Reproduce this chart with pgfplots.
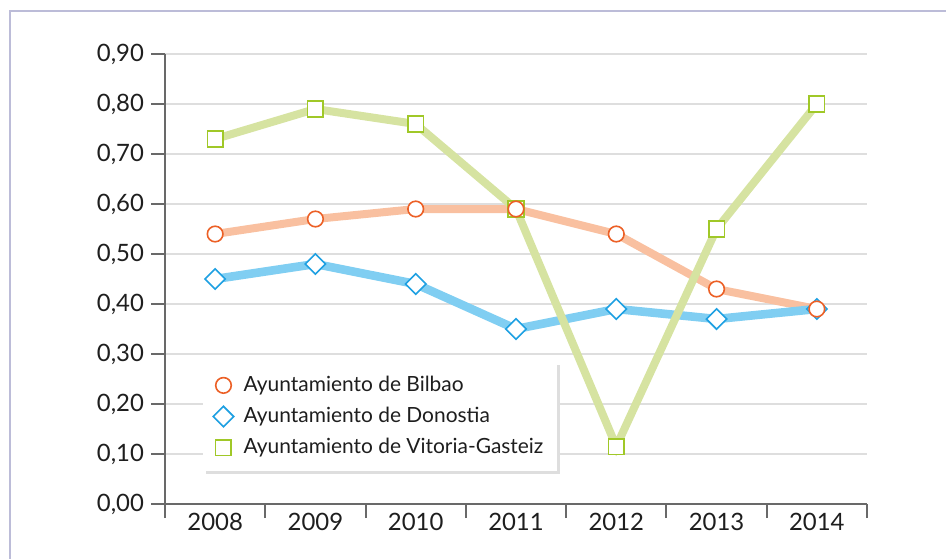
\documentclass[border=0pt]{standalone}
\usepackage{pgfplots}
\pgfplotsset{compat=1.18}
\usepackage{fontspec}
\setmainfont{Lato}
\usetikzlibrary{shadows}
\definecolor{orline}{RGB}{249,192,160}
\definecolor{ormark}{RGB}{236,96,38}
\definecolor{blline}{RGB}{128,206,242}
\definecolor{blmark}{RGB}{30,160,226}
\definecolor{grline}{RGB}{214,227,161}
\definecolor{grmark}{RGB}{160,200,40}
\definecolor{framec}{RGB}{188,188,216}
\definecolor{gridc}{RGB}{222,222,222}
\definecolor{axc}{RGB}{105,105,105}
\definecolor{txt}{RGB}{30,30,30}
\definecolor{shad}{RGB}{222,222,222}
\begin{document}
\begin{tikzpicture}
\useasboundingbox (0bp,0bp) rectangle (473bp,279.5bp);
\draw[framec, line width=1bp] (5bp,-1bp) -- (5bp,274bp) -- (474bp,274bp);
\begin{axis}[at={(82.5bp,27.5bp)}, anchor=south west, scale only axis,
  width=351bp, height=225bp,
  xmin=-0.5, xmax=6.5, ymin=0, ymax=0.9,
  axis x line=bottom, axis y line=left,
  axis line style={axc, line width=1bp, -},
  xtick={-0.5,0.5,1.5,2.5,3.5,4.5,5.5,6.5}, xticklabels={},
  extra x ticks={0,1,2,3,4,5,6},
  extra x tick labels={2008,2009,2010,2011,2012,2013,2014},
  extra x tick style={major tick length=0pt},
  ytick={0,0.1,0.2,0.3,0.4,0.5,0.6,0.7,0.8,0.9},
  major tick length=7bp, tick align=outside,
  tick style={axc, line width=1bp},
  ymajorgrids, grid style={gridc, line width=1bp},
  tick label style={font=\fontsize{12}{14}\selectfont, text=txt},
  /pgf/number format/assume math mode=true,
  yticklabel style={/pgf/number format/.cd, fixed, fixed zerofill, precision=2, use comma},
  xticklabel style={yshift=-1bp},
  legend style={at={(0.054,0.316)}, anchor=north west, draw=none, fill=white,
    font=\fontsize{10.5}{12}\selectfont, text=txt, row sep=2.4bp, column sep=3bp,
    inner xsep=5bp, inner ysep=5bp,
    drop shadow={shadow xshift=1.2bp, shadow yshift=-1.4bp, fill=shad, opacity=1}},
  legend cell align=left, reverse legend,
  clip=false,
]
\addplot[orline, line width=4bp, forget plot] coordinates {(0,0.54)(1,0.57)(2,0.59)(3,0.59)(4,0.54)(5,0.43)(6,0.39)};
\addplot[blline, line width=4.3bp, forget plot] coordinates {(0,0.45)(1,0.48)(2,0.44)(3,0.35)(4,0.39)(5,0.37)(6,0.39)};
\addplot[grline, line width=4bp, forget plot] coordinates {(0,0.73)(1,0.79)(2,0.76)(3,0.59)(4,0.115)(5,0.55)(6,0.80)};
\addplot[only marks, mark=square*, mark size=3.9bp, mark options={draw=grmark, fill=white, line width=0.8bp}] coordinates {(0,0.73)(1,0.79)(2,0.76)(3,0.59)(4,0.115)(5,0.55)(6,0.80)};
\addlegendentry{Ayuntamiento de Vitoria-Gasteiz}
\addplot[only marks, mark=square*, mark size=3.6bp, mark options={draw=blmark, fill=white, line width=0.8bp, rotate=45}] coordinates {(0,0.45)(1,0.48)(2,0.44)(3,0.35)(4,0.39)(5,0.37)(6,0.39)};
\addlegendentry{Ayuntamiento de Donostia}
\addplot[only marks, mark=*, mark size=3.9bp, mark options={draw=ormark, fill=white, line width=0.8bp}] coordinates {(0,0.54)(1,0.57)(2,0.59)(3,0.59)(4,0.54)(5,0.43)(6,0.39)};
\addlegendentry{Ayuntamiento de Bilbao}
\end{axis}
\end{tikzpicture}
\end{document}
